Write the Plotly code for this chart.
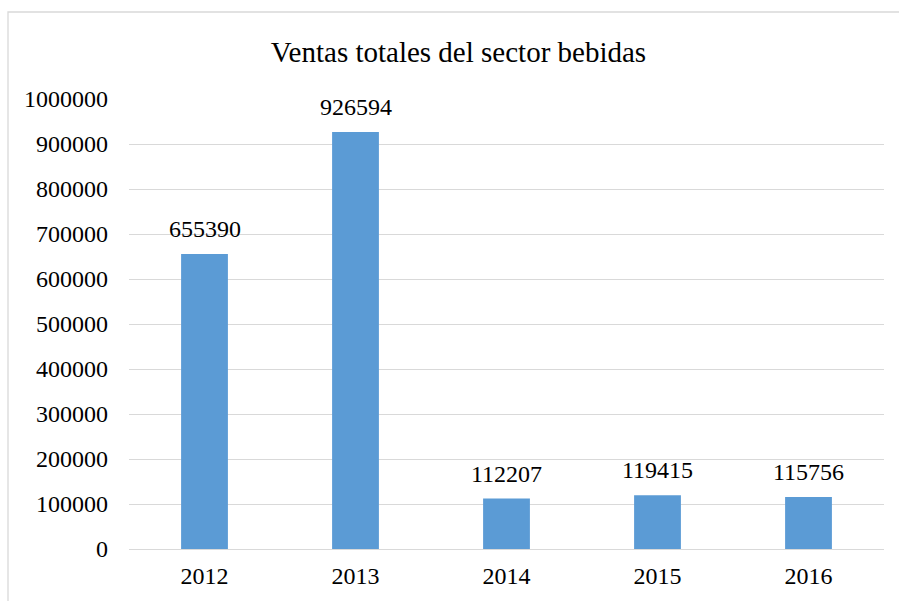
import plotly.graph_objects as go

years = ["2012", "2013", "2014", "2015", "2016"]
sales = [655390, 926594, 112207, 119415, 115756]
y_ticks = [0, 100000, 200000, 300000, 400000, 500000, 600000, 700000, 800000, 900000, 1000000]

W, H = 899, 601
L, R, T, B = 129, 15, 99, 52
pw, ph = W - L - R, H - T - B

fig = go.Figure(go.Bar(
    x=years, y=sales,
    marker=dict(color="#5B9BD5", line=dict(width=0)),
    width=0.31,
    cliponaxis=False,
))

for i, (yr, v) in enumerate(zip(years, sales)):
    fig.add_annotation(x=i, y=v, xref="x", yref="y", text=str(v), showarrow=False,
                       yanchor="bottom", yshift=10,
                       font=dict(family="Liberation Serif", size=24, color="#000000"))

fig.update_layout(
    width=W, height=H,
    margin=dict(l=L, r=R, t=T, b=B),
    paper_bgcolor="white", plot_bgcolor="white",
    title=dict(text="Ventas totales del sector bebidas", xref="paper", x=(458.5 - L) / pw,
               xanchor="center", y=1 - 52 / H, yanchor="middle",
               font=dict(family="Liberation Serif", size=29, color="#000000")),
    font=dict(family="Liberation Serif", size=24, color="#000000"),
    showlegend=False,
    xaxis=dict(type="category", range=[-0.5, 4.5], showgrid=False, showline=False, ticks="",
               tickfont=dict(size=24), ticklabelstandoff=10),
    yaxis=dict(range=[0, 1000000], tickvals=y_ticks, ticktext=[str(v) for v in y_ticks],
               showgrid=True, gridcolor="#D9D9D9", gridwidth=1.3, zeroline=True,
               zerolinecolor="#D9D9D9", zerolinewidth=1.3, showline=False,
               tickfont=dict(size=24), ticklabelstandoff=20),
    shapes=[dict(type="rect", xref="paper", yref="paper",
                 x0=(8 - L) / pw, x1=1 + (R + 20) / pw,
                 y0=-(B + 20) / ph, y1=1 + (T - 12) / ph,
                 line=dict(color="#D9D9D9", width=1.3), fillcolor="rgba(0,0,0,0)", layer="below")],
)

fig.write_html("out.html", config={"displayModeBar": False},
               post_script="document.body.style.margin='0px';")
